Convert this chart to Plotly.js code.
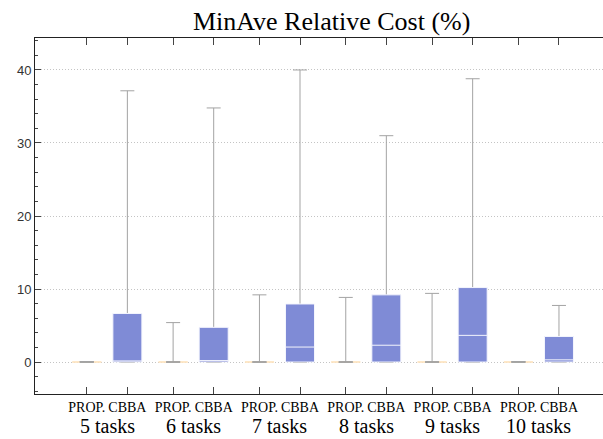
<!DOCTYPE html>
<html><head><meta charset="utf-8">
<script src="https://cdn.plot.ly/plotly-3.0.1.min.js"></script>
<style>html,body{margin:0;padding:0;background:#fff}
.fontwarm{position:absolute;left:0;top:0;font-size:2px;visibility:hidden;white-space:nowrap}</style>
</head><body>
<span class="fontwarm" style="font-family:'Liberation Serif'">Mt</span>
<span class="fontwarm" style="font-family:'Liberation Sans'">0</span>
<div id="chart" style="width:603px;height:439px;position:relative"></div>
<script>
// ---- data ----
const groups = ['5 tasks', '6 tasks', '7 tasks', '8 tasks', '9 tasks', '10 tasks'];
const methods = ['PROP.', 'CBBA'];
const propQ1 = [0, 0, 0, 0, 0, 0];
const propMedian = [0, 0, 0, 0, 0, 0];
const propQ3 = [0, 0, 0, 0, 0, 0];
const propLower = [0, 0, 0, 0, 0, 0];
const propUpper = [0.05, 5.4, 9.2, 8.85, 9.4, 0.05];
const cbbaQ1 = [0, 0, 0, 0, 0, 0];
const cbbaMedian = [0.15, 0.2, 2.05, 2.3, 3.65, 0.3];
const cbbaQ3 = [6.65, 4.75, 7.95, 9.2, 10.2, 3.5];
const cbbaLower = [0, 0, 0, 0, 0, 0];
const cbbaUpper = [37.15, 34.8, 40.0, 31.0, 38.8, 7.75];
const yTicks = [0, 10, 20, 30, 40];

// ---- layout helpers ----
const SERIF = 'Liberation Serif';
const SANS = 'Liberation Sans';
const off = 0.235;
const gIdx = groups.map((g, i) => i);
const xProp = gIdx.map(i => i - off);
const xCbba = gIdx.map(i => i + off);
const boxW = 0.336, capW = 0.162;
const gray = '#a3a3a3';

function boxTrace(x, q1, med, q3, fill, line) {
  return {type: 'box', x: x, q1: q1, median: med, q3: q3,
    lowerfence: q1, upperfence: q3, width: boxW, whiskerwidth: 0,
    fillcolor: fill, line: {color: line, width: 1}, showlegend: false, hoverinfo: 'skip'};
}
function whiskerTrace(x, lower, upper) {
  return {type: 'box', x: x, q1: lower, median: lower, q3: lower,
    lowerfence: lower, upperfence: upper, width: capW, whiskerwidth: 1,
    fillcolor: 'rgba(0,0,0,0)', line: {color: gray, width: 1}, showlegend: false, hoverinfo: 'skip'};
}

const traces = [
  boxTrace(xProp, propQ1, propMedian, propQ3, '#fde4c2', '#fde4c2'),
  whiskerTrace(xProp, propLower, propUpper),
  whiskerTrace(xCbba, cbbaLower, cbbaUpper),
  boxTrace(xCbba, cbbaQ1, cbbaMedian, cbbaQ3, '#7f8bd6', '#f4f5fd')
];

const tickvals = [], ticktext = [];
gIdx.forEach(i => { tickvals.push(xProp[i], xCbba[i]); ticktext.push(methods[0], methods[1]); });

const annotations = groups.map((g, i) => ({
  text: g, x: i, xref: 'x', y: 0, yref: 'paper', yanchor: 'top', yshift: -19,
  showarrow: false, font: {family: SERIF, size: 20, color: '#000'}
}));

const layout = {
  width: 603, height: 439,
  margin: {l: 35, r: 0, t: 38, b: 45},
  paper_bgcolor: '#fff', plot_bgcolor: '#fff',
  boxmode: 'overlay',
  title: {text: 'MinAve Relative Cost (%)', x: 0.55, xanchor: 'center', y: 0.952, yanchor: 'middle',
    font: {family: SERIF, size: 26, color: '#000'}},
  xaxis: {range: [-0.835, 5.745], tickvals: tickvals, ticktext: ticktext,
    showline: true, linecolor: '#222', linewidth: 1, mirror: 'ticks',
    ticks: 'inside', ticklen: 7, tickcolor: '#444', showgrid: false, zeroline: false,
    tickfont: {family: SERIF, size: 14, color: '#000'}},
  yaxis: {range: [-4.38, 44.38], tickvals: yTicks,
    showline: true, linecolor: '#222', linewidth: 1, mirror: false,
    ticks: 'inside', ticklen: 6, tickcolor: '#444',
    minor: {dtick: 2, ticks: 'inside', ticklen: 3, tickcolor: '#444', showgrid: false},
    showgrid: true, gridcolor: '#c4c4c4', griddash: '1px,2px', gridwidth: 1, zeroline: false,
    tickfont: {family: SANS, size: 13, color: '#333'}},
  annotations: annotations
};

Plotly.newPlot('chart', traces, layout, {displayModeBar: false});
</script>
</body></html>
